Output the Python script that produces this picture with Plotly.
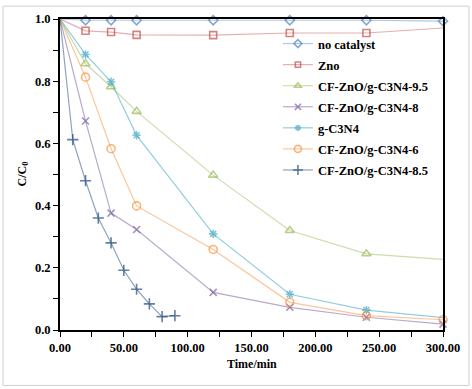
import plotly.graph_objects as go

# ---- data ----
t_std = [0, 20, 40, 60, 120, 180, 240, 300]
no_catalyst = [1.0, 0.996, 0.996, 0.996, 0.996, 0.996, 0.996, 0.993]
zno = [1.0, 0.962, 0.958, 0.949, 0.948, 0.955, 0.955, 0.971]
cf_95 = [1.0, 0.856, 0.782, 0.703, 0.498, 0.320, 0.245, 0.227]
cf_8 = [1.0, 0.672, 0.376, 0.323, 0.121, 0.073, 0.041, 0.019]
g_c3n4 = [1.0, 0.886, 0.798, 0.626, 0.309, 0.115, 0.064, 0.040]
cf_6 = [1.0, 0.813, 0.583, 0.399, 0.259, 0.089, 0.046, 0.033]
t_85 = [0, 10, 20, 30, 40, 50, 60, 70, 80, 90]
cf_85 = [1.0, 0.612, 0.480, 0.360, 0.280, 0.192, 0.131, 0.084, 0.043, 0.046]

names = ["no catalyst", "Zno", "CF-ZnO/g-C3N4-9.5", "CF-ZnO/g-C3N4-8",
         "g-C3N4", "CF-ZnO/g-C3N4-6", "CF-ZnO/g-C3N4-8.5"]
x_ticks = [0, 50, 100, 150, 200, 250, 300]
x_tick_labels = ["0.00", "50.00", "100.00", "150.00", "200.00", "250.00", "300.00"]
y_ticks = [0, 0.2, 0.4, 0.6, 0.8, 1.0]
y_tick_labels = ["0.0", "0.2", "0.4", "0.6", "0.8", "1.0"]

series = [
    (t_std, no_catalyst, "#4F81BD", "rgba(79,129,189,0.45)", "diamond-open", 7, False),
    (t_std, zno, "#C0504D", "rgba(192,80,77,0.45)", "square-open", 7, True),
    (t_std, cf_95, "#9BBB59", "rgba(155,187,89,0.5)", "triangle-up-open", 8, True),
    (t_std, cf_8, "#8064A2", "rgba(128,100,162,0.55)", "x-thin-open", 7, False),
    (t_std, g_c3n4, "#4BACC6", "rgba(75,172,198,0.6)", "asterisk-open", 7, True),
    (t_std, cf_6, "#F79646", "rgba(247,150,70,0.55)", "circle-open", 8, False),
    (t_85, cf_85, "#1F497D", "rgba(31,73,125,0.5)", "cross-thin-open", 8, False),
]

font_serif = "Liberation Serif"

fig = go.Figure()
for (xs, ys, mc, lc, sym, sz, hide_last), nm in zip(series, names):
    sizes = [sz] * len(xs)
    sizes[0] = 0
    if hide_last:
        sizes[-1] = 0
    fig.add_trace(go.Scatter(
        x=xs, y=ys, name=f"<span style='font-size:12.5px'><b>{nm}</b></span>",
        mode="lines+markers",
        line=dict(color=lc, width=1.2),
        marker=dict(symbol=sym, size=sizes, color=mc,
                    line=dict(color=mc, width=1.6)),
        cliponaxis=False,
    ))

fig.update_layout(
    width=472, height=389,
    margin=dict(l=60, r=29, t=16, b=59),
    paper_bgcolor="white", plot_bgcolor="white",
    font=dict(family=font_serif, size=12, color="black"),
    showlegend=True,
    legend=dict(x=0.569, y=0.971, xanchor="left", yanchor="top",
                bgcolor="rgba(0,0,0,0)", font=dict(size=13.9, family=font_serif),
                tracegroupgap=0, itemwidth=30),
    xaxis=dict(range=[0, 300], tickvals=x_ticks, ticktext=[f"<b>{s}</b>" for s in x_tick_labels],
               showgrid=False, zeroline=False, showline=True, linecolor="black", linewidth=2,
               mirror=True, ticks="outside", ticklen=5, tickcolor="black", tickwidth=1,
               minor=dict(dtick=25, ticks="outside", ticklen=5, tickcolor="black"),
               tickfont=dict(size=12.5, family=font_serif)),
    yaxis=dict(range=[0, 1.0], tickvals=y_ticks, ticktext=[f"<b>{s}</b>" for s in y_tick_labels],
               showgrid=False, zeroline=False, showline=True, linecolor="black", linewidth=2,
               mirror=True, ticks="outside", ticklen=5, tickcolor="black", tickwidth=1,
               minor=dict(dtick=0.1, ticks="outside", ticklen=5, tickcolor="black"),
               tickfont=dict(size=12.5, family=font_serif)),
)
pw, ph = 472 - 60 - 29, 389 - 16 - 59
fig.add_annotation(text="<b>Time/min</b>", x=(252 - 60) / pw, y=(389 - 59 - 373) / ph,
                   xref="paper", yref="paper", showarrow=False,
                   font=dict(size=12, family=font_serif))
fig.add_annotation(text="<b>C/C<sub>0</sub></b>", x=(12 - 60) / pw, y=(389 - 59 - 173) / ph,
                   xref="paper", yref="paper", textangle=-90, showarrow=False,
                   font=dict(size=12, family=font_serif))

fig.add_shape(type="rect", xref="paper", yref="paper",
              x0=-57 / pw, x1=1 + 26 / pw, y0=-56 / ph, y1=1 + 13 / ph,
              line=dict(color="#d0d0d0", width=1), layer="below")

fig.write_html("out.html", config={"displayModeBar": False},
               post_script="document.body.style.margin='0px';document.body.style.overflow='hidden';")
